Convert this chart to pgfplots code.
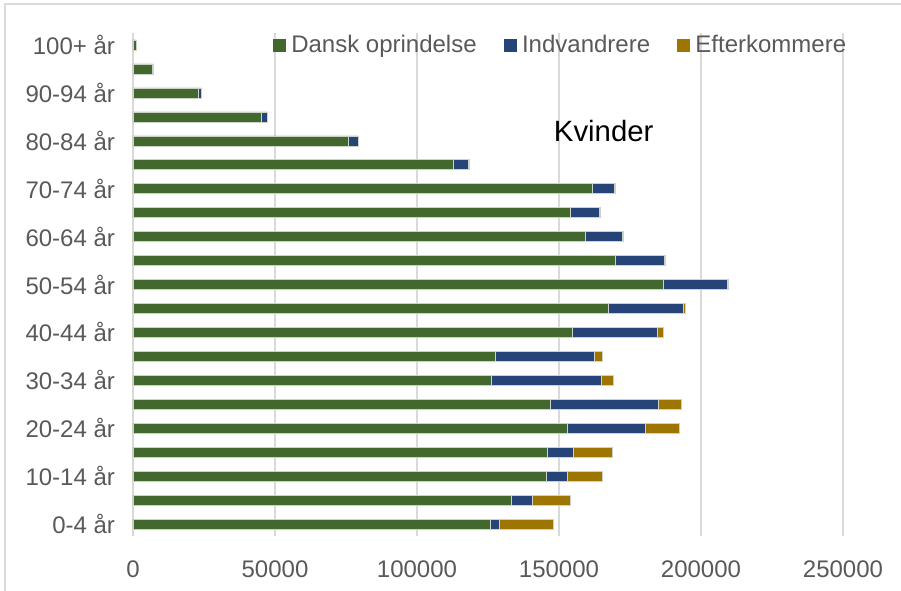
\documentclass[border=0pt]{standalone}
\usepackage{fontspec}
\setmainfont{Liberation Sans}
\usepackage{pgfplots}
\pgfplotsset{compat=1.18}
\definecolor{cgreen}{RGB}{67,104,45}
\definecolor{cblue}{RGB}{38,68,120}
\definecolor{cgold}{RGB}{158,117,0}
\definecolor{ctext}{RGB}{89,89,89}
\definecolor{cgrid}{RGB}{217,217,217}
\begin{document}
\begin{tikzpicture}[x=0.75pt,y=0.75pt]
\path[use as bounding box] (-133,-55) rectangle (768,536);
\draw[cgrid, line width=1pt] (-128,-60) -- (-128,532) -- (780,532);
\begin{axis}[
  at={(0,0)}, anchor=south west,
  scale only axis, width=532.5pt, height=377.25pt,
  xbar stacked, bar width=7.5pt,
  xmin=0, xmax=250000, ymin=-0.5, ymax=20.5,
  xtick={0,50000,100000,150000,200000,250000},
  xticklabels={0,50000,100000,150000,200000,250000},
  ytick={0,2,...,20},
  yticklabels={0-4 år,10-14 år,20-24 år,30-34 år,40-44 år,50-54 år,60-64 år,70-74 år,80-84 år,90-94 år,100+ år},
  scaled x ticks=false,
  axis line style={draw=none},
  major tick length=0pt,
  xmajorgrids, grid style={cgrid, line width=1.1pt},
  tick label style={font=\fontsize{18}{21}\selectfont, text=ctext},
  yticklabel style={xshift=-10pt},
  xticklabel style={yshift=-15pt},
  legend style={at={(0.1972,0.976)}, anchor=west, draw=none, fill=none, inner sep=0pt,
    nodes={inner sep=0pt},
    legend columns=-1, font=\fontsize{18}{21}\selectfont, text=ctext,
    /tikz/every odd column/.append style={column sep=3.75pt},
    /tikz/every even column/.append style={column sep=20.5pt}},
  legend image code/.code={\fill[#1,draw=none] (0pt,-4.875pt) rectangle (9.75pt,4.875pt);},
  every axis plot/.append style={draw={rgb,255:red,205;green,210;blue,200}, line width=0.4pt},
]
\addplot[fill=cgreen] coordinates {
(125800,0) (133200,1) (145600,2) (146000,3) (153000,4) (147100,5) (126200,6)
(127700,7) (154800,8) (167200,9) (186600,10) (169700,11) (159100,12) (153800,13)
(161800,14) (112900,15) (75800,16) (45300,17) (23100,18) (6900,19) (1000,20)};
\addplot[fill=cblue] coordinates {
(3200,0) (7400,1) (7300,2) (8900,3) (27400,4) (38000,5) (38700,6)
(34800,7) (29900,8) (26700,9) (22600,10) (17400,11) (13200,12) (10400,13)
(7700,14) (5300,15) (3500,16) (2000,17) (900,18) (300,19) (50,20)};
\addplot[fill=cgold] coordinates {
(18900,0) (13200,1) (12500,2) (13700,3) (11900,4) (8100,5) (4300,6)
(2800,7) (2100,8) (700,9) (400,10) (400,11) (400,12) (300,13)
(400,14) (100,15) (50,16) (0,17) (0,18) (0,19) (0,20)};
\legend{Dansk oprindelse,Indvandrere,Efterkommere}
\node[anchor=base, font=\fontsize{22}{26}\selectfont, text=black] at (rel axis cs:0.663,0.784) {Kvinder};
\end{axis}
\end{tikzpicture}
\end{document}
